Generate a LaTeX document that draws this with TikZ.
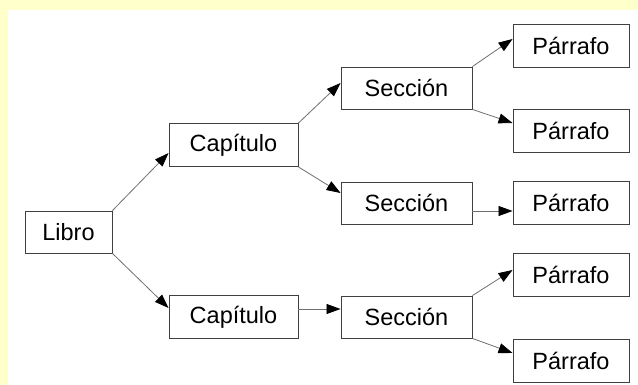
\documentclass[tikz,border=0pt]{standalone}
\usepackage{fontspec}
\setmainfont{Liberation Sans}
\usetikzlibrary{positioning, arrows.meta, calc}

\definecolor{paleyellow}{HTML}{FFFFCC}
\definecolor{boxline}{HTML}{404040}
\definecolor{arrowline}{HTML}{707070}

\begin{document}
\begin{tikzpicture}[
 x=1pt, y=-1pt,
 box/.style={draw=boxline, line width=0.9pt, rectangle, inner sep=0pt, fill=white},
 wide/.style={box, minimum width=129pt, minimum height=43pt},
 narrow/.style={box, minimum width=116pt, minimum height=43pt},
 arrow/.style={-{Triangle[length=14pt, width=10pt, color=black]}, draw=arrowline, line width=0.8pt},
 font=\fontsize{23.5}{28}\selectfont
 ]

  % Background
  \fill[paleyellow] (0,0) rectangle (638,385);
  \fill[white] (8,10) rectangle (638,385);
  \useasboundingbox (0,0) rectangle (638,385);

  % Root
  \node[box, minimum width=87pt, minimum height=42pt] at (68.5,232) (libro) {Libro};

  % Chapters
  \node[wide] at (233.5,145) (cap_top) {Capítulo};
  \node[wide] at (233.5,317) (cap_bot) {Capítulo};

  % Sections
  \node[wide, minimum width=131pt, minimum height=42pt] at (406.5,88) (sec_top) {Sección};
  \node[wide, minimum width=131pt, minimum height=42pt] at (406.5,203) (sec_mid) {Sección};
  \node[wide, minimum width=131pt, minimum height=42pt] at (406.5,317) (sec_bot) {Sección};

  % Paragraphs
  \node[narrow] at (571,45.5) (par_1) {Párrafo};
  \node[narrow] at (571,131) (par_2) {Párrafo};
  \node[narrow] at (571,203) (par_3) {Párrafo};
  \node[narrow] at (571,274.5) (par_4) {Párrafo};
  \node[narrow] at (571,360.5) (par_5) {Párrafo};

  % Arrows from book to chapters
  \draw[arrow] (libro.north east) -- ([yshift=-8pt]cap_top.west);
  \draw[arrow] (libro.south east) -- ([yshift=9pt]cap_bot.west);

  % Arrows from chapters to sections
  \draw[arrow] (cap_top.north east) -- ([yshift=5pt]sec_top.west);
  \draw[arrow] (cap_top.south east) -- ([yshift=10pt]sec_mid.west);
  \draw[arrow] ([yshift=8pt]cap_bot.east) -- ([yshift=8pt]sec_bot.west);

  % Arrows from sections to paragraphs
  \draw[arrow] (sec_top.north east) -- ([yshift=6.5pt]par_1.west);
  \draw[arrow] (sec_top.south east) -- ([yshift=8pt]par_2.west);
  \draw[arrow] ([yshift=-8pt]sec_mid.east) -- ([yshift=-8pt]par_3.west);
  \draw[arrow] (sec_bot.north east) -- ([yshift=4.5pt]par_4.west);
  \draw[arrow] (sec_bot.south east) -- ([yshift=7.5pt]par_5.west);

\end{tikzpicture}
\end{document}
